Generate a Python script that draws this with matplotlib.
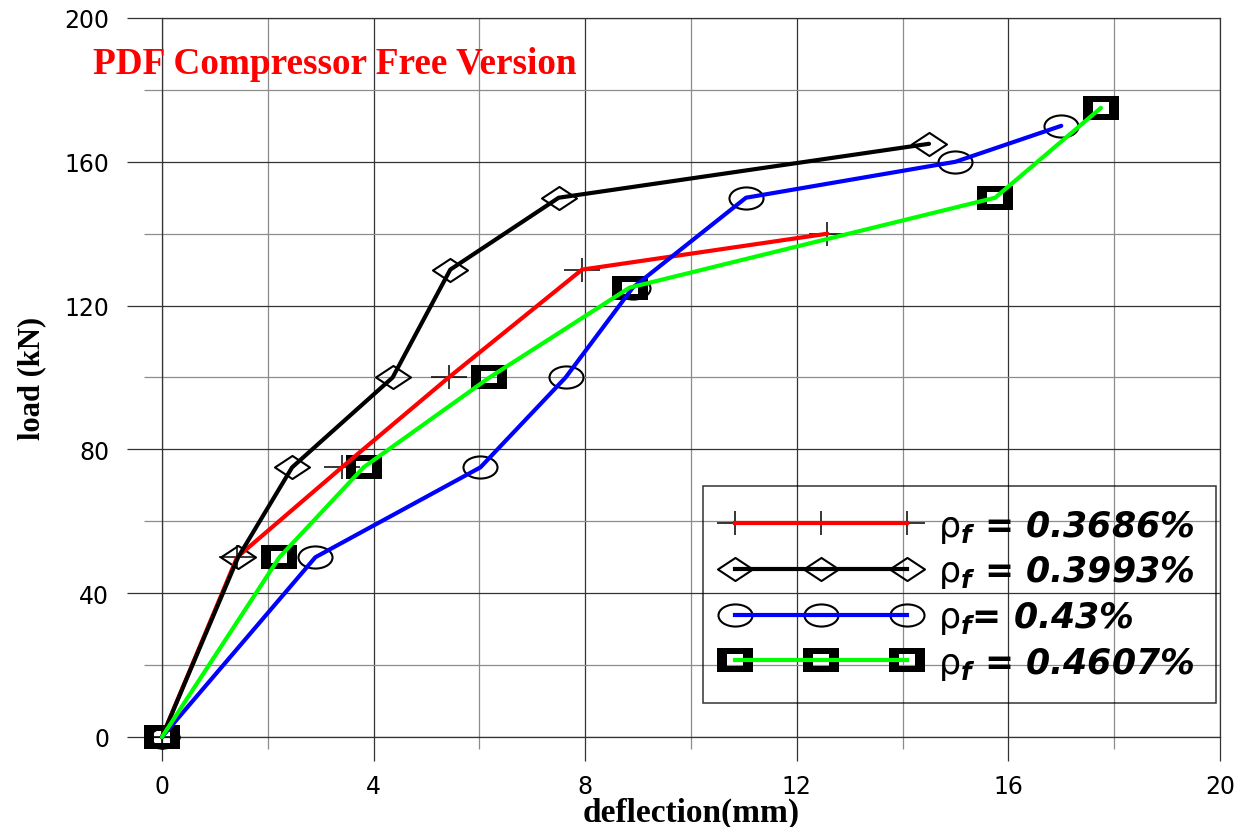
import numpy as np
import matplotlib
matplotlib.use("Agg")
import matplotlib.pyplot as plt
from matplotlib.path import Path
from matplotlib.lines import Line2D
from matplotlib.legend_handler import HandlerTuple
from matplotlib.ticker import MultipleLocator

# load - deflection curves for the four fibre ratios
defl_1 = [0, 1.42, 3.4, 5.42, 7.94, 12.58]
load_1 = [0, 50, 75, 100, 130, 140]
defl_2 = [0, 1.44, 2.46, 4.36, 5.45, 7.5, 14.5]
load_2 = [0, 50, 75, 100, 130, 150, 165]
defl_3 = [0, 2.9, 6.02, 7.63, 8.9, 11.04, 15.0, 17.0]
load_3 = [0, 50, 75, 100, 125, 150, 160, 170]
defl_4 = [0, 2.22, 3.81, 6.19, 8.84, 15.75, 17.75]
load_4 = [0, 50, 75, 100, 125, 150, 175]
labels = [r'$\mathrm{\rho}_{\mathbfit{f}}$ = 0.3686%',
          r'$\mathrm{\rho}_{\mathbfit{f}}$ = 0.3993%',
          r'$\mathrm{\rho}_{\mathbfit{f}}$= 0.43%',
          r'$\mathrm{\rho}_{\mathbfit{f}}$ = 0.4607%']
colors = ['#ff0000', '#000000', '#0000ff', '#00ff00']

# wide markers
diamond = Path([(-1, 0), (0, 0.66), (1, 0), (0, -0.66), (-1, 0)],
               [Path.MOVETO, Path.LINETO, Path.LINETO, Path.LINETO, Path.CLOSEPOLY])
circ = Path.unit_circle()
ellipse = Path(circ.vertices * np.array([1, 0.65]), circ.codes)
plus = Path([(-1, 0), (1, 0), (0, -0.67), (0, 0.67)],
            [Path.MOVETO, Path.LINETO, Path.MOVETO, Path.LINETO])
outer = [(-1, -0.69), (1, -0.69), (1, 0.69), (-1, 0.69), (-1, -0.69)]
inner = [(-0.45, -0.31), (-0.45, 0.31), (0.45, 0.31), (0.45, -0.31), (-0.45, -0.31)]
rc = [Path.MOVETO, Path.LINETO, Path.LINETO, Path.LINETO, Path.CLOSEPOLY]
box = Path(outer + inner, rc + rc)

mstyles = [dict(marker=plus, ms=25.9, mfc='none', mec='k', mew=1.1),
           dict(marker=diamond, ms=25.2, mfc='none', mec='k', mew=1.5),
           dict(marker=ellipse, ms=24.5, mfc='none', mec='k', mew=1.5),
           dict(marker=box, ms=25.9, mfc='k', mec='k', mew=0)]

fig = plt.figure(figsize=(12.45, 8.28), dpi=100)
ax = fig.add_axes([0.1301, 0.1087, 0.8498, 0.8684])

xs = [defl_1, defl_2, defl_3, defl_4]
ys = [load_1, load_2, load_3, load_4]
handles = []
for x, y, c, ms in zip(xs, ys, colors, mstyles):
    ax.plot(x, y, ls='none', zorder=3, clip_on=False, **ms)
    ax.plot(x, y, color=c, lw=3, zorder=4, clip_on=False, solid_capstyle='round')
    mh = Line2D([], [], ls='none', **ms)
    lh = Line2D([], [], color=c, lw=3)
    handles.append((mh, lh))

ax.set_xlim(0, 20)
ax.set_ylim(0, 200)
ax.xaxis.set_major_locator(MultipleLocator(4))
ax.xaxis.set_minor_locator(MultipleLocator(2))
ax.yaxis.set_major_locator(MultipleLocator(40))
ax.yaxis.set_minor_locator(MultipleLocator(20))
ax.set_axisbelow(True)
ax.grid(which='major', color='#333333', lw=0.9)
ax.grid(which='minor', color='#8c8c8c', lw=0.9)
ax.tick_params(axis='x', which='major', direction='out', length=17, width=0.9,
               color='#333333', pad=10, labelsize=17)
ax.tick_params(axis='x', which='minor', direction='out', length=8.6, width=0.9,
               color='#8c8c8c')
ax.tick_params(axis='y', which='major', direction='out', length=25, width=0.9,
               color='#333333', pad=13, labelsize=17)
ax.tick_params(axis='y', which='minor', direction='out', length=13, width=0.9,
               color='#8c8c8c')
for s in ax.spines.values():
    s.set_color('#333333')
    s.set_linewidth(0.9)

ax.set_xlabel('deflection(mm)', family='Liberation Serif', weight='bold', fontsize=24)
ax.xaxis.set_label_coords(0.5, -0.083)
ax.xaxis.label.set_va('top')
ax.set_ylabel('load (kN)', family='Liberation Serif', weight='bold', fontsize=22)
ax.yaxis.set_label_coords(-0.109, 0.5)

leg = ax.legend(handles, labels, handler_map={tuple: HandlerTuple(ndivide=1, pad=0)},
                numpoints=3, loc='upper left', bbox_to_anchor=(0.511, 0.349),
                borderaxespad=0, prop=dict(family='DejaVu Sans', weight='bold',
                                           style='italic', size=25),
                handlelength=5.56, handletextpad=0.6, borderpad=0.62,
                labelspacing=0.25, fancybox=False, edgecolor='k')
leg.get_frame().set_facecolor('none')
leg.get_frame().set_linewidth(1.1)
leg.set_zorder(6)

fig.text(93 / 1245, 1 - 74 / 828, 'PDF Compressor Free Version', color='#ff0000',
         family='Liberation Serif', weight='bold', fontsize=26.8, va='baseline')

fig.savefig('out.png', dpi=100)
